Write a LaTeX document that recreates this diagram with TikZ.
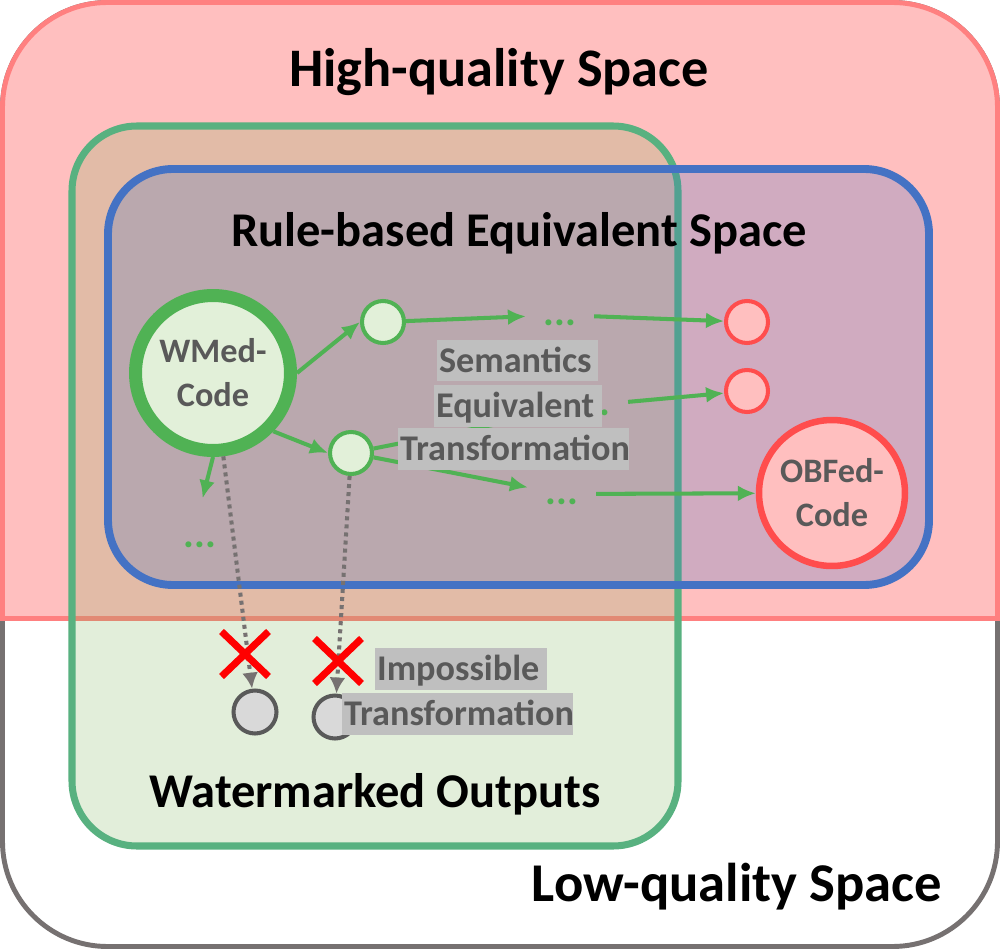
\documentclass[tikz,border=0pt]{standalone}
\usepackage{fontspec}
\setmainfont{Carlito}
\usepackage{tikz}
\usetikzlibrary{arrows.meta,positioning,shapes.misc}
\definecolor{lqgray}{RGB}{118,113,113}
\definecolor{hqpink}{RGB}{255,191,191}
\definecolor{hqedge}{RGB}{255,128,128}
\definecolor{wmgreen}{RGB}{112,173,71}
\definecolor{wmedge}{RGB}{88,177,128}
\definecolor{eqblue}{RGB}{68,114,196}
\definecolor{codegreen}{RGB}{80,178,84}
\definecolor{codefill}{RGB}{226,240,217}
\definecolor{obfred}{RGB}{255,77,77}
\definecolor{txtgray}{RGB}{89,89,89}

\begin{document}
\begin{tikzpicture}[x=.02cm,y=-.02cm,
  font=\bfseries,
  title/.style={font=\fontsize{#1}{36}\selectfont\bfseries,text=black},
  code/.style={circle,inner sep=0pt,align=center,text=txtgray,font=\fontsize{19.5}{25}\selectfont\bfseries},
  wmcode/.style={code,draw=codegreen,fill=codefill,line width=7.4pt,minimum size=3.1cm},
  obfcode/.style={code,draw=obfred,fill=hqpink,line width=3.7pt,minimum size=2.92cm},
  greenpt/.style={circle,draw=codegreen,fill=codefill,line width=2.3pt,minimum size=.84cm,inner sep=0pt},
  redpt/.style={circle,draw=obfred,fill=hqpink,line width=2.3pt,minimum size=.84cm,inner sep=0pt},
  graypt/.style={circle,draw=txtgray,fill=black!15,line width=2.3pt,minimum size=.86cm,inner sep=0pt},
  more/.style={text=codegreen,font=\fontsize{23}{26}\selectfont\bfseries,text height=12pt,text depth=0pt,inner sep=10pt},
  hl/.style={anchor=west,fill=black!25,text=txtgray,font=\fontsize{20.6}{24}\selectfont\bfseries,inner xsep=1pt,inner ysep=0pt,text height=18.5pt,text depth=5.3pt,text width=#1},
  nope/.style={cross out,draw=red,line width=4pt,minimum width=.8cm,minimum height=.76cm,inner sep=0pt},
  flow/.style={-{Latex[length=3.6mm,width=3.2mm]},draw=codegreen,line width=2.3pt},
  fail/.style={-{Latex[length=3.2mm,width=3.2mm]},draw=lqgray,line width=2.3pt,dash pattern=on 2.3pt off 2.3pt}]

\path[use as bounding box] (0,0) rectangle (1000,949);
% spaces
\draw[lqgray,line width=2.8pt,fill=white,rounded corners=2.1cm] (2.5,2.5) rectangle (997.5,946.5);
\begin{scope}
  \clip (0,0) rectangle (1000,618.5);
  \draw[hqedge,fill=hqpink,line width=2.8pt,rounded corners=2.1cm] (2.5,2.5) rectangle (997.5,900);
\end{scope}
\draw[hqedge,line width=2.8pt] (0,618.5)--(1000,618.5);
\draw[wmedge,line width=4pt,fill=wmgreen,fill opacity=.2,rounded corners=1.3cm] (72,126) rectangle (678,846);
\draw[eqblue,line width=4.5pt,fill=eqblue,fill opacity=.25,rounded corners=1.3cm] (108,169) rectangle (929,585);
\node[title=30.9] (hq) at (499,72) {High-quality Space};
\node[title=27.6] (eq) at (519,233) {Rule-based Equivalent Space};
\node[title=27.6] (wm) at (375,794) {Watermarked Outputs};
\node[title=31.1] (lq) at (737,887) {Low-quality Space};

% codes
\node[wmcode] (wmed) at (213,373) {WMed-\\Code};
\node[greenpt] (a) at (383,322) {};
\node[greenpt] (b) at (351,453) {};
\node[redpt] (c1) at (747,322) {};
\node[redpt] (c2) at (747,391) {};
\node[obfcode] (obf) at (832,493) {OBFed-\\Code};
\node[more] (ma) at (560,315) {...};
\node[more] (mb) at (594,405) {...};
\node[more] (mc) at (562,494) {...};
\node[more] (ml) at (200,537) {...};
\draw[flow] (wmed.east)--(a.west);
\draw[flow] (wmed.-44)--(b.west);
\draw[flow,shorten >=6pt] (wmed.south)--(ml.north);
\draw[flow] (a)--(ma);
\draw[flow] (b)--(mb);
\draw[flow] (b)--(mc);
\draw[flow] (ma)--(c1);
\draw[flow] (mb)--(c2);
\draw[flow] (mc)--(obf);
\node[hl=3.15cm] (sem1) at (437,360.5) {Semantics};
\node[hl=3.29cm] (sem2) at (434,406) {Equivalent};
\node[hl=4.55cm] (sem3) at (398,449) {Transformation};

% watermarked outputs
\node[graypt] (g1) at (255,712) {};
\node[graypt] (g2) at (335,717) {};
\draw[fail] (wmed)--(g1);
\draw[fail] (b)--(g2);
\node[nope] (x1) at (245,654) {};
\node[nope] (x2) at (338,661) {};
\node[hl=3.37cm] (imp1) at (375,669) {Impossible};
\node[hl=4.55cm] (imp2) at (342,714) {Transformation};

\end{tikzpicture}
\end{document}
